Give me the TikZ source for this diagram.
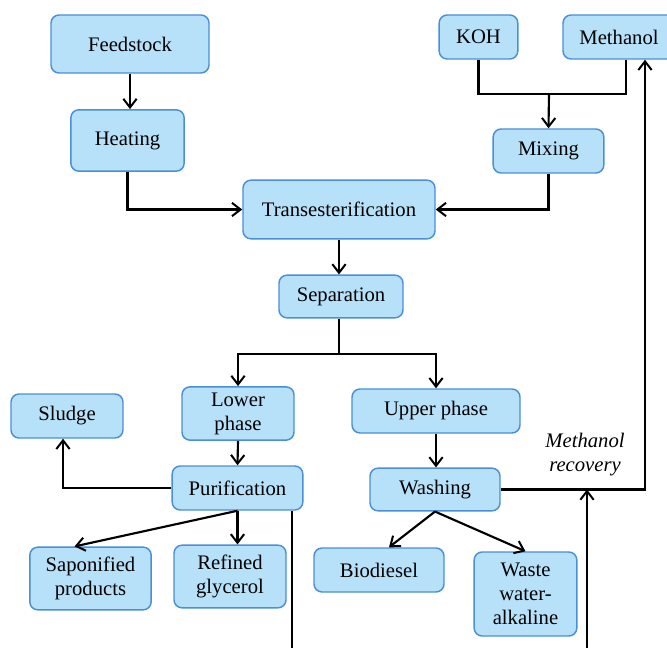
\documentclass[tikz,border=0pt]{standalone}
\usepackage{fontspec}
\setmainfont{Liberation Serif}
\usetikzlibrary{arrows.meta}
\usetikzlibrary{positioning}
\definecolor{boxfill}{HTML}{B6E1F8}
\definecolor{boxline}{HTML}{4A8FD8}
\tikzset{
  proc/.style={draw=boxline, line width=1.1pt, fill=boxfill, rounded corners=6pt,
    align=center, inner sep=2pt, font=\fontsize{15.5}{18}\selectfont},
  flow/.style={line width=1.6pt, -{Straight Barb[length=6.5pt,width=10pt,line width=1.5pt]}},
  wire/.style={line width=1.6pt},
}

\begin{document}
\begin{tikzpicture}[x=0.75pt,y=-0.75pt]
			\useasboundingbox (0,0) rectangle (667,648);
			% boxes
			\node[proc, minimum width=118.5pt, minimum height=43.5pt] (feed) at (130,44) {Feedstock};
			\node[proc, minimum width=85pt, minimum height=46pt] (heat) at (127.5,140.5) {Heating};
			\node[proc, minimum width=59pt, minimum height=33pt] (koh) at (478.5,37) {KOH};
			\node[proc, minimum width=84pt, minimum height=33pt] (meth) at (619,37) {Methanol};
			\node[proc, minimum width=83pt, minimum height=33pt] (mix) at (548.5,151) {Mixing};
			\node[proc, minimum width=144pt, minimum height=44pt] (trans) at (339,209.5) {Transesterification};
			\node[proc, minimum width=93pt, minimum height=32pt] (sep) at (341,296.5) {Separation};
			\node[proc, minimum width=84pt, minimum height=40pt] (lower) at (238,413.5) {Lower\\phase};
			\node[proc, minimum width=126pt, minimum height=33pt] (upper) at (436,411) {Upper phase};
			\node[proc, minimum width=84pt, minimum height=33pt] (sludge) at (67,416) {Sludge};
			\node[proc, minimum width=98pt, minimum height=33pt] (puri) at (237.5,488) {Purification};
			\node[proc, minimum width=97.5pt, minimum height=32pt] (wash) at (435,489.5) {Washing};
			\node[proc, minimum width=91pt, minimum height=47pt] (sapo) at (90.5,578.5) {Saponified\\products};
			\node[proc, minimum width=84pt, minimum height=47pt] (glyc) at (230,576.5) {Refined\\glycerol};
			\node[proc, minimum width=97.5pt, minimum height=33pt] (bio) at (379,570) {Biodiesel};
			\node[proc, minimum width=77pt, minimum height=63pt] (waste) at (525.5,594) {Waste\\water-\\alkaline};
			\node[align=center, font=\fontsize{15.5}{18}\selectfont\itshape] (reclabel) at (585,455) {Methanol\\recovery};
			% points on the lines
			\coordinate (join) at (549,94);
			\coordinate (split) at (339,354);
			\coordinate (rec) at (645,488);
			\coordinate (recin) at (587,650);
			\coordinate (glyout) at (292,650);
			% connectors
			\draw[flow] (feed.south) -- (feed.south |- heat.north);
			\draw[flow] (heat.south) |- (trans.west);
			\draw[wire] (koh.south) |- (join) -| ([xshift=5.25pt]meth.south);
			\draw[flow] (join) -- (mix.north);
			\draw[flow] (mix.south) |- (trans.east);
			\draw[flow] (trans.south) -- (trans.south |- sep.north);
			\draw[wire] (sep.south -| split) -- (split);
			\draw[flow] (split) -| (lower.north);
			\draw[flow] (split) -| (upper.north);
			\draw[flow] (lower.south) -- (puri.north);
			\draw[flow] (upper.south) -- (upper.south |- wash.north);
			\draw[flow] (puri.west) -| ([xshift=-3pt]sludge.south);
			\draw[flow] (puri.south) -- (puri.south |- glyc.north);
			\draw[flow] (puri.south) -- ([xshift=-12pt]sapo.north);
			\draw[wire] (puri.south -| glyout) -- (glyout);
			\draw[flow] (wash.south) -- ([xshift=7.5pt]bio.north);
			\draw[flow] (wash.south) -- (waste.north);
			\draw[flow] (wash.east) -| (rec |- meth.south);
			\draw[flow] (recin) -- (recin |- wash.east);
		\end{tikzpicture}
\end{document}
